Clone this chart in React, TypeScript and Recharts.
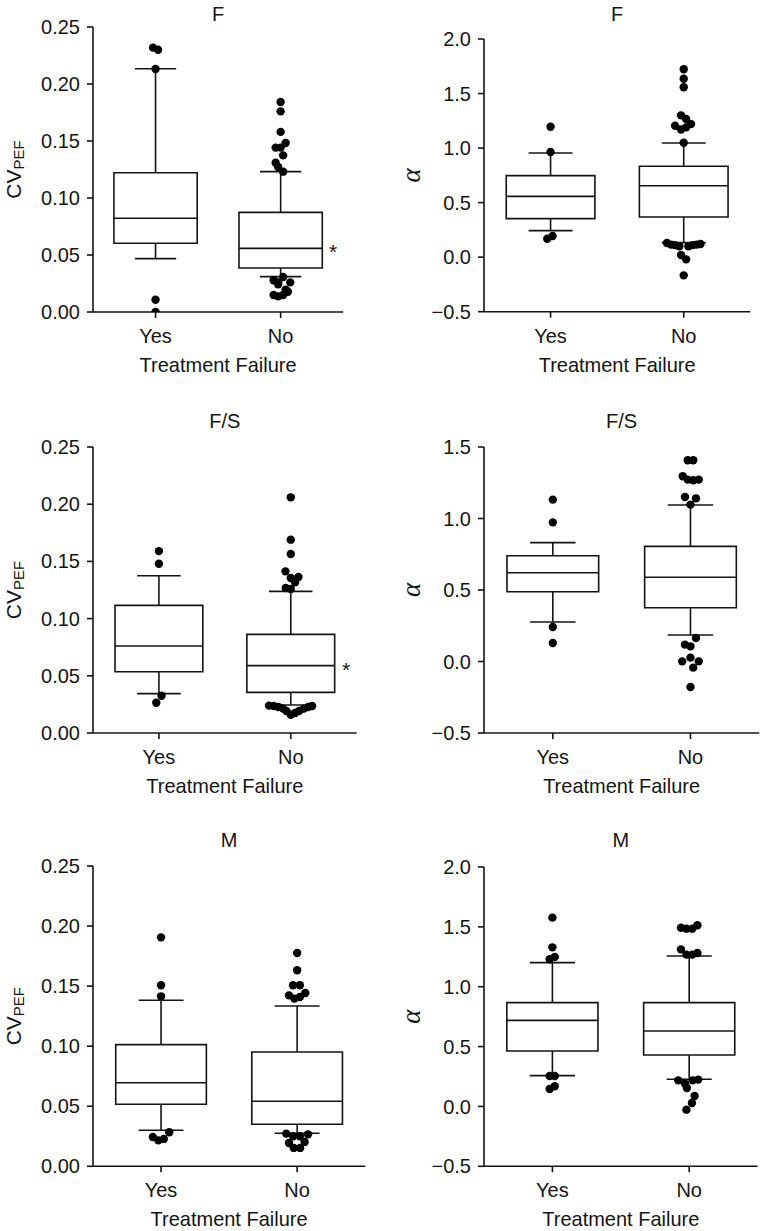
import React from 'react';
import { ScatterChart, Scatter, XAxis, YAxis, ReferenceArea, ReferenceLine } from 'recharts';

// ---------- data ----------
const categories = ['Yes', 'No'];

const yTicksCV = [0, 0.05, 0.1, 0.15, 0.2, 0.25];
const yTicksAlpha2 = [-0.5, 0, 0.5, 1.0, 1.5, 2.0];
const yTicksAlpha15 = [-0.5, 0, 0.5, 1.0, 1.5];

// box stats per category: [whiskerLow, Q1, median, Q3, whiskerHigh]
const boxCvF = [
  [0.0468, 0.0603, 0.0822, 0.1222, 0.2134],
  [0.031, 0.0386, 0.0558, 0.0874, 0.1231],
];
const boxAlphaF = [
  [0.243, 0.353, 0.557, 0.747, 0.955],
  [0.133, 0.368, 0.655, 0.833, 1.046],
];
const boxCvFS = [
  [0.0344, 0.0536, 0.076, 0.1116, 0.1375],
  [0.0245, 0.0355, 0.0589, 0.0862, 0.1238],
];
const boxAlphaFS = [
  [0.276, 0.488, 0.621, 0.74, 0.831],
  [0.185, 0.376, 0.589, 0.805, 1.094],
];
const boxCvM = [
  [0.03, 0.0516, 0.0696, 0.1013, 0.1382],
  [0.0275, 0.035, 0.0541, 0.0952, 0.1335],
];
const boxAlphaM = [
  [0.257, 0.463, 0.719, 0.867, 1.201],
  [0.227, 0.43, 0.63, 0.867, 1.257],
];

// outlier points: [category index, horizontal jitter, value]
const outCvF = [
  [0, -0.02, 0.2319], [0, 0.02, 0.2301], [0, 0, 0.2132], [0, 0, 0.0108], [0, 0, 0.0],
  [1, 0, 0.1842], [1, 0, 0.176], [1, 0, 0.158], [1, 0.04, 0.1482], [1, -0.04, 0.1442],
  [1, 0, 0.1442], [1, 0.02, 0.1374], [1, -0.04, 0.131], [1, -0.02, 0.1272], [1, 0.02, 0.1231],
  [1, 0.02, 0.0307], [1, -0.056, 0.0278], [1, -0.02, 0.026], [1, 0.077, 0.026], [1, -0.02, 0.0243],
  [1, 0.04, 0.0196], [1, 0.058, 0.0178], [1, -0.056, 0.0149], [1, -0.02, 0.0137], [1, 0.02, 0.0149],
];
const outAlphaF = [
  [0, 0, 1.196], [0, 0, 0.964], [0, -0.025, 0.169], [0, 0.015, 0.194],
  [1, 0, 1.722], [1, 0, 1.636], [1, 0, 1.557], [1, -0.02, 1.3], [1, 0.018, 1.267],
  [1, -0.065, 1.205], [1, -0.02, 1.17], [1, 0.018, 1.19], [1, 0.055, 1.22], [1, 0, 1.049],
  [1, -0.126, 0.13], [1, -0.095, 0.115], [1, -0.065, 0.11], [1, -0.033, 0.1],
  [1, 0.035, 0.1], [1, 0.068, 0.11], [1, 0.098, 0.115], [1, 0.126, 0.12],
  [1, -0.02, 0.02], [1, 0.018, -0.02], [1, 0, -0.167],
];
const outCvFS = [
  [0, 0, 0.159], [0, 0, 0.148], [0, 0.02, 0.0326], [0, -0.02, 0.0265],
  [1, 0, 0.206], [1, 0, 0.169], [1, 0, 0.1565], [1, -0.04, 0.1413], [1, 0, 0.1355],
  [1, 0.058, 0.1364], [1, 0.033, 0.1317], [1, -0.038, 0.1267], [1, 0, 0.1259],
  [1, -0.165, 0.0239], [1, -0.129, 0.0236], [1, -0.094, 0.0227], [1, -0.058, 0.0213],
  [1, -0.033, 0.0192], [1, 0, 0.016], [1, 0.033, 0.0175], [1, 0.063, 0.0192],
  [1, 0.099, 0.0213], [1, 0.132, 0.0227], [1, 0.162, 0.0236],
];
const outAlphaFS = [
  [0, 0, 1.132], [0, 0, 0.973], [0, 0, 0.241], [0, 0, 0.129],
  [1, -0.02, 1.407], [1, 0.02, 1.407], [1, -0.056, 1.295], [1, -0.02, 1.272], [1, 0.02, 1.267],
  [1, 0.06, 1.272], [1, -0.04, 1.15], [1, 0.04, 1.141], [1, 0, 1.097],
  [1, 0.04, 0.164], [1, -0.04, 0.118], [1, 0, 0.106], [1, -0.06, 0.001], [1, 0, 0.027],
  [1, 0.02, -0.043], [1, 0.06, 0.001], [1, 0, -0.178],
];
const outCvM = [
  [0, 0, 0.1906], [0, 0, 0.1507], [0, 0, 0.1415], [0, 0.06, 0.0283], [0, -0.06, 0.0244],
  [0, -0.02, 0.0216], [0, 0.02, 0.0228],
  [1, 0, 0.1776], [1, 0, 0.1632], [1, -0.03, 0.1507], [1, 0.02, 0.1507], [1, -0.06, 0.1423],
  [1, -0.02, 0.1396], [1, 0.02, 0.141], [1, 0.06, 0.1443],
  [1, -0.08, 0.0272], [1, -0.03, 0.025], [1, 0.02, 0.025], [1, 0.08, 0.0266],
  [1, -0.06, 0.0194], [1, 0.055, 0.0203], [1, -0.025, 0.0153], [1, 0.022, 0.0153],
];
const outAlphaM = [
  [0, 0, 1.577], [0, 0, 1.329], [0, -0.02, 1.229], [0, 0.017, 1.248], [0, -0.02, 0.254],
  [0, 0.017, 0.254], [0, -0.02, 0.146], [0, 0.017, 0.168],
  [1, -0.06, 1.493], [1, -0.02, 1.485], [1, 0.022, 1.485], [1, 0.06, 1.513], [1, -0.06, 1.312],
  [1, -0.02, 1.268], [1, 0.022, 1.268], [1, 0.06, 1.282],
  [1, -0.08, 0.218], [1, -0.03, 0.19], [1, -0.017, 0.154], [1, 0.025, 0.218], [1, 0.066, 0.224],
  [1, 0.04, 0.087], [1, 0.02, 0.029], [1, -0.02, -0.027],
];

// ---------- styling ----------
const FONT = '"Liberation Sans", Arial, Helvetica, sans-serif';
const INK = '#141414';
const FS = 20;
const BOX_HALF = 0.333;
const CAP_HALF = 0.165;

const fmtTick = (digits: number) => (v: number) => {
  const s = Math.abs(v).toFixed(digits);
  return v < 0 ? '\u2212' + s : s;
};

const Dot = (props: any) => {
  const { cx, cy } = props;
  if (cx == null || cy == null) return null;
  return <circle cx={cx} cy={cy} r={4.2} fill="#000" />;
};

const Star = (props: any) => {
  const { cx, cy } = props;
  if (cx == null || cy == null) return null;
  return (
    <text x={cx} y={cy + 11} textAnchor="middle" fontSize={21} fontFamily={FONT} fill={INK}>
      *
    </text>
  );
};

type PanelProps = {
  title: string;
  box: number[][];
  out: number[][];
  yDomain: [number, number];
  yTicks: number[];
  digits: number;
  kind: 'cv' | 'alpha';
  star?: boolean;
  L: number; T: number; R: number; B: number;
  titleY: number;
};

function Panel(p: PanelProps) {
  const YW = 93, MT = 45, MR = 8, XH = 75;
  const plotW = p.R - p.L;
  const plotH = p.B - p.T;
  const width = YW + plotW + MR;
  const height = MT + plotH + XH;
  const left = p.L - YW;
  const top = p.T - MT;
  const pts = p.out.map(([g, dx, v]) => ({ x: g + dx, y: v }));
  const starPts = p.star ? [{ x: 1 + 0.42, y: p.box[1][2] }] : [];
  const line = { stroke: INK, strokeWidth: 1.6 };
  const ylx = p.kind === 'cv' ? YW - 72 : YW - 64;
  const ylY = MT + plotH / 2;

  return (
    <div style={{ position: 'absolute', left, top, width, height }}>
      <ScatterChart width={width} height={height} margin={{ top: MT, right: MR, left: 0, bottom: 0 }}>
        <XAxis
          type="number"
          dataKey="x"
          domain={[-0.5, 1.5]}
          ticks={[0, 1]}
          allowDataOverflow
          tickFormatter={(v: number) => categories[Math.round(v)]}
          height={XH}
          stroke={INK}
          strokeWidth={1.6}
          tickSize={6}
          tickMargin={11}
          tick={{ fill: INK, fontSize: FS, fontFamily: FONT }}
        />
        <YAxis
          type="number"
          dataKey="y"
          domain={p.yDomain}
          ticks={p.yTicks}
          allowDataOverflow
          width={YW}
          stroke={INK}
          strokeWidth={1.6}
          tickSize={6}
          tickMargin={7}
          tickFormatter={fmtTick(p.digits)}
          tick={{ fill: INK, fontSize: FS, fontFamily: FONT }}
        />
        {p.box.map((b, i) => (
          <ReferenceArea
            key={'a' + i}
            x1={i - BOX_HALF}
            x2={i + BOX_HALF}
            y1={b[1]}
            y2={b[3]}
            fill="#fff"
            fillOpacity={1}
            stroke={INK}
            strokeWidth={1.6}
          />
        ))}
        {p.box.map((b, i) => (
          <ReferenceLine key={'m' + i} segment={[{ x: i - BOX_HALF, y: b[2] }, { x: i + BOX_HALF, y: b[2] }]} {...line} />
        ))}
        {p.box.map((b, i) => (
          <ReferenceLine key={'wu' + i} segment={[{ x: i, y: b[3] }, { x: i, y: b[4] }]} {...line} />
        ))}
        {p.box.map((b, i) => (
          <ReferenceLine key={'wl' + i} segment={[{ x: i, y: b[0] }, { x: i, y: b[1] }]} {...line} />
        ))}
        {p.box.map((b, i) => (
          <ReferenceLine key={'cu' + i} segment={[{ x: i - CAP_HALF, y: b[4] }, { x: i + CAP_HALF, y: b[4] }]} {...line} />
        ))}
        {p.box.map((b, i) => (
          <ReferenceLine key={'cl' + i} segment={[{ x: i - CAP_HALF, y: b[0] }, { x: i + CAP_HALF, y: b[0] }]} {...line} />
        ))}
        <Scatter data={pts} shape={Dot} isAnimationActive={false} />
        {p.star && <Scatter data={starPts} shape={Star} isAnimationActive={false} />}
        <text x={YW + plotW / 2} y={p.titleY - top + 7} textAnchor="middle" fontSize={FS} fontFamily={FONT} fill={INK}>
          {p.title}
        </text>
        <text x={YW + plotW / 2} y={MT + plotH + 60} textAnchor="middle" fontSize={FS} fontFamily={FONT} fill={INK}>
          Treatment Failure
        </text>
        {p.kind === 'cv' ? (
          <text
            x={ylx}
            y={ylY}
            transform={`rotate(-90, ${ylx}, ${ylY})`}
            textAnchor="middle"
            fontFamily={FONT}
            fill={INK}
            fontSize={21}
          >
            <tspan>CV</tspan>
            <tspan fontSize={15} dy={3}>PEF</tspan>
          </text>
        ) : (
          <text
            x={ylx}
            y={ylY}
            transform={`rotate(-90, ${ylx}, ${ylY})`}
            textAnchor="middle"
            fontFamily='"Liberation Serif", "DejaVu Serif", serif'
            fontStyle="italic"
            fill={INK}
            fontSize={27}
          >
            α
          </text>
        )}
      </ScatterChart>
    </div>
  );
}

export default function App() {
  return (
    <div style={{ position: 'absolute', left: 0, top: 0, width: 762, height: 1231, background: '#fff', overflow: 'hidden' }}>
      <Panel title="F" box={boxCvF} out={outCvF} yDomain={[0, 0.25]} yTicks={yTicksCV} digits={2} kind="cv" star
        L={93.3} T={26.7} R={343.5} B={311.7} titleY={14} />
      <Panel title="F" box={boxAlphaF} out={outAlphaF} yDomain={[-0.5, 2]} yTicks={yTicksAlpha2} digits={1} kind="alpha"
        L={483.7} T={39} R={750} B={311.7} titleY={14} />
      <Panel title="F/S" box={boxCvFS} out={outCvFS} yDomain={[0, 0.25]} yTicks={yTicksCV} digits={2} kind="cv" star
        L={93.3} T={446.7} R={357} B={732.7} titleY={420.7} />
      <Panel title="F/S" box={boxAlphaFS} out={outAlphaFS} yDomain={[-0.5, 1.5]} yTicks={yTicksAlpha15} digits={1} kind="alpha"
        L={483.7} T={446.7} R={759} B={732.7} titleY={420.7} />
      <Panel title="M" box={boxCvM} out={outCvM} yDomain={[0, 0.25]} yTicks={yTicksCV} digits={2} kind="cv"
        L={93.3} T={865.7} R={365.5} B={1166} titleY={840} />
      <Panel title="M" box={boxAlphaM} out={outAlphaM} yDomain={[-0.5, 2]} yTicks={yTicksAlpha2} digits={1} kind="alpha"
        L={483.7} T={866.7} R={757.3} B={1166} titleY={840} />
    </div>
  );
}
